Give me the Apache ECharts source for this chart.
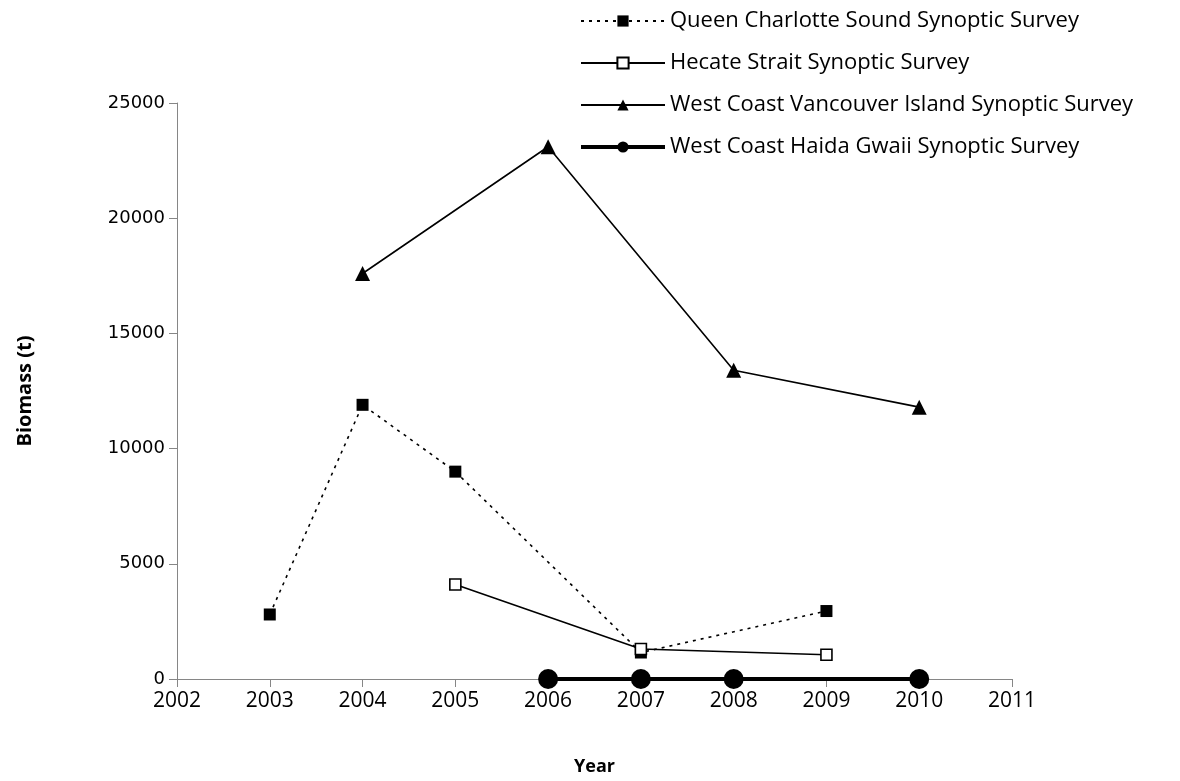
<!DOCTYPE html>
<html><head><meta charset="utf-8">
<script src="https://cdn.jsdelivr.net/npm/echarts@6/dist/echarts.min.js"></script>
<style>html,body{margin:0;padding:0;background:#fff}#c{width:1180px;height:781px}</style>
</head><body><div id="c"></div>
<script>
const seriesNames = [
  'Queen Charlotte Sound Synoptic Survey',
  'Hecate Strait Synoptic Survey',
  'West Coast Vancouver Island Synoptic Survey',
  'West Coast Haida Gwaii Synoptic Survey'
];
const qcsYears = [2003, 2004, 2005, 2007, 2009];
const qcsValues = [2800, 11900, 9000, 1150, 2950];
const hsYears = [2005, 2007, 2009];
const hsValues = [4100, 1300, 1050];
const wcviYears = [2004, 2006, 2008, 2010];
const wcviValues = [17600, 23100, 13400, 11800];
const wchgYears = [2006, 2007, 2008, 2010];
const wchgValues = [0, 0, 0, 0];

const pairs = (xs, ys) => xs.map((x, i) => [x, ys[i]]);
const font = 'Open Sans';
const chart = echarts.init(document.getElementById('c'));
chart.setOption({
  animation: false,
  backgroundColor: '#fff',
  grid: { left: 177, right: 168, top: 103, bottom: 99 },
  legend: {
    orient: 'vertical', left: 574, top: 5, itemWidth: 84, itemHeight: 14, itemGap: 20,
    textStyle: { fontFamily: font, fontSize: 22, color: '#000' },
    data: [
      { name: seriesNames[0] },
      { name: seriesNames[1] },
      { name: seriesNames[2] },
      { name: seriesNames[3], lineStyle: { width: 4 } }
    ]
  },
  xAxis: {
    type: 'value', min: 2002, max: 2011, interval: 1,
    name: 'Year', nameLocation: 'middle', nameGap: 79,
    nameTextStyle: { fontFamily: font, fontSize: 18, fontWeight: 'bold', color: '#000' },
    axisLine: { lineStyle: { color: '#868686', width: 1 } },
    axisTick: { show: true, length: 8, lineStyle: { color: '#868686' } },
    axisLabel: { fontFamily: font, fontSize: 21, color: '#000', margin: 12, formatter: v => String(v) },
    splitLine: { show: false }
  },
  yAxis: {
    type: 'value', min: 0, max: 25000, interval: 5000,
    name: 'Biomass (t)', nameLocation: 'middle', nameGap: 142, nameRotate: 90,
    nameTextStyle: { fontFamily: font, fontSize: 20, fontWeight: 'bold', color: '#000' },
    axisLine: { show: true, lineStyle: { color: '#868686', width: 1 } },
    axisTick: { show: true, length: 8, lineStyle: { color: '#868686' } },
    axisLabel: { fontFamily: 'DejaVu Sans', fontSize: 18, color: '#000', margin: 12, formatter: v => String(v) },
    splitLine: { show: false }
  },
  series: [
    { name: seriesNames[0], type: 'line', data: pairs(qcsYears, qcsValues),
      symbol: 'rect', symbolSize: 12,
      lineStyle: { color: '#000', width: 1.6, type: [3, 5] },
      itemStyle: { color: '#000' } },
    { name: seriesNames[1], type: 'line', data: pairs(hsYears, hsValues),
      symbol: 'rect', symbolSize: 11,
      lineStyle: { color: '#000', width: 1.6 },
      itemStyle: { color: '#fff', borderColor: '#000', borderWidth: 1.6 } },
    { name: seriesNames[2], type: 'line', data: pairs(wcviYears, wcviValues),
      symbol: 'triangle', symbolSize: 15,
      lineStyle: { color: '#000', width: 1.6 },
      itemStyle: { color: '#000' } },
    { name: seriesNames[3], type: 'line', data: pairs(wchgYears, wchgValues),
      symbol: 'circle', symbolSize: 20,
      lineStyle: { color: '#000', width: 4 },
      itemStyle: { color: '#000' } }
  ]
});
</script></body></html>
